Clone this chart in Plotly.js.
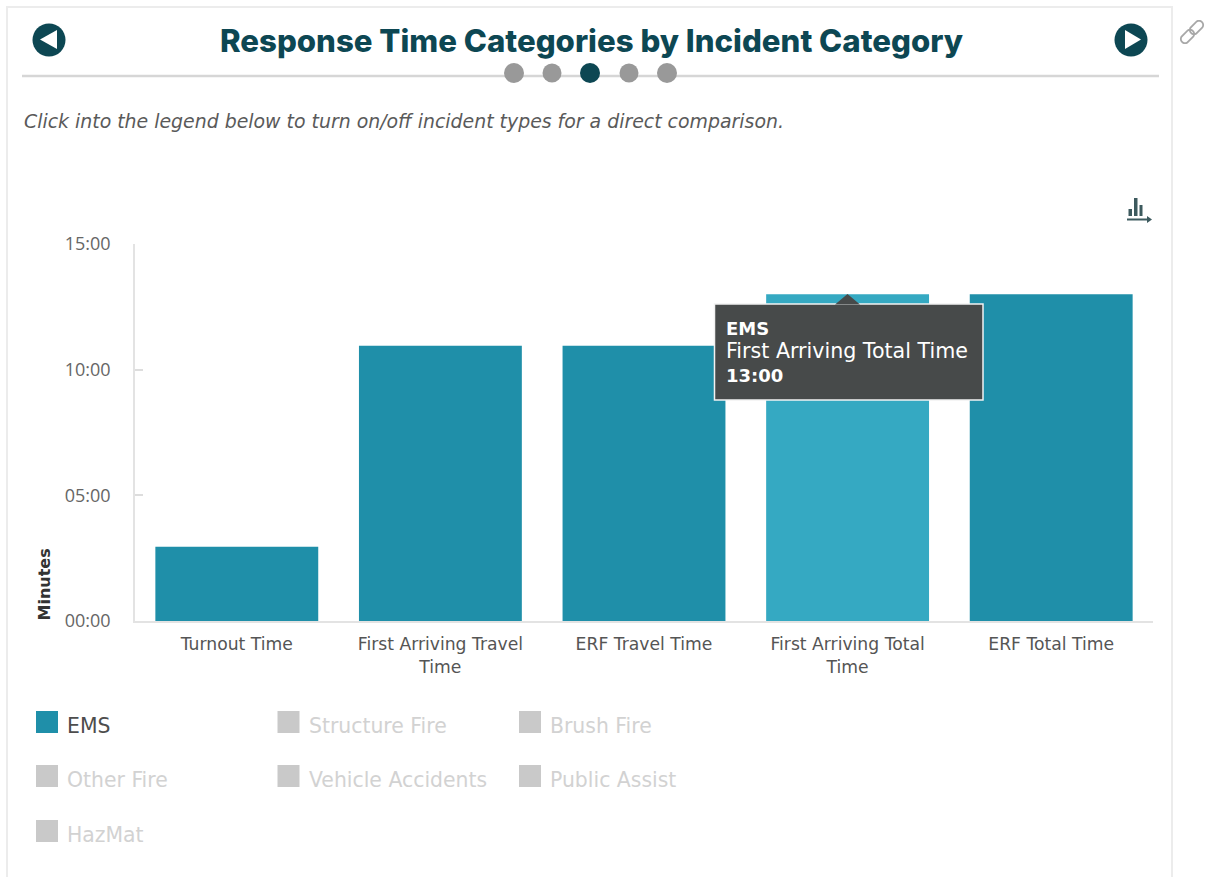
<!DOCTYPE html>
<html>
<head>
<meta charset="utf-8">
<script src="https://cdn.plot.ly/plotly-3.0.1.min.js"></script>
<style>html,body{margin:0;padding:0;background:#fff;overflow:hidden}#chart{width:1206px;height:877px}</style>
</head>
<body>
<div id="chart"></div>
<script>
const categories = ["Turnout Time", "First Arriving Travel<br>Time", "ERF Travel Time", "First Arriving Total<br>Time", "ERF Total Time"];
const emsMinutes = [2.95, 10.95, 10.95, 13, 13];
const yTickValues = [0, 5, 10, 15];
const yTickLabels = ["00:00", "05:00", "10:00", "15:00"];
const legendNames = ["EMS", "Structure Fire", "Brush Fire", "Other Fire", "Vehicle Accidents", "Public Assist", "HazMat"];
const titleText = "Response Time Categories by Incident Category";
const noteText = "Click into the legend below to turn on/off incident types for a direct comparison.";
const hoveredIndex = 3;

const W = 1206, H = 877;
const px = x => x / W, py = y => 1 - y / H;
const BAR = "#1f8fa9", BAR_HI = "#35a9c2", DARK = "#0d4753", GREY = "#999999";
const SANS = "'Open Sans', sans-serif";
const VERA = "'DejaVu Sans', sans-serif";

function path(points) {
  return "M" + points.map(p => px(p[0]) + "," + py(p[1])).join("L") + "Z";
}
function shapePath(points, fill) {
  return {type: "path", xref: "paper", yref: "paper", path: path(points), fillcolor: fill, line: {width: 0}};
}
function rect(x0, y0, x1, y1, fill, lineColor, lineWidth, layer) {
  return {type: "rect", xref: "paper", yref: "paper", x0: px(x0), x1: px(x1), y0: py(y0), y1: py(y1),
    fillcolor: fill, line: {color: lineColor || fill, width: lineWidth || 0}, layer: layer || "above"};
}
function circle(cx, cy, r, fill) {
  return {type: "circle", xref: "paper", yref: "paper", x0: px(cx - r), x1: px(cx + r), y0: py(cy + r), y1: py(cy - r),
    fillcolor: fill, line: {width: 0}};
}
function hline(x0, y0, x1, y1, color, width) {
  return {type: "line", xref: "paper", yref: "paper", x0: px(x0), x1: px(x1), y0: py(y0), y1: py(y1), line: {color: color, width: width}};
}
// closed outline of a link of the chain icon, tilted 45 degrees
function chainLink(cx, cy, half, r, color) {
  const pts = [], c = Math.SQRT1_2;
  for (let k = 0; k <= 24; k++) {
    const a = k / 24 * 2 * Math.PI;
    const u = r * Math.cos(a) + (k <= 6 || k >= 18 ? half : -half);
    const v = r * Math.sin(a);
    pts.push([cx + (u + v) * c, cy + (-u + v) * c]);
  }
  return {type: "path", xref: "paper", yref: "paper", path: path(pts), fillcolor: "rgba(0,0,0,0)", line: {color: color, width: 1.8}};
}
function label(text, x, y, size, color, family, extra) {
  return Object.assign({xref: "paper", yref: "paper", x: px(x), y: py(y), text: text, showarrow: false,
    xanchor: "left", yanchor: "middle", font: {size: size, color: color, family: family}}, extra || {});
}
function mmss(minutes) {
  const m = Math.floor(minutes), s = Math.round((minutes - m) * 60);
  return String(m).padStart(2, "0") + ":" + String(s).padStart(2, "0");
}

const shapes = [
  rect(7, 7, 1172, 900, "#ffffff", "#ececec", 2, "below"),
  hline(22, 76, 1159, 76, "#d6d6d6", 2.5),
  circle(49, 40, 16.5, DARK),
  shapePath([[40, 39.5], [57, 30], [57, 49]], "#ffffff"),
  circle(1131, 40, 16.5, DARK),
  shapePath([[1141, 39.5], [1125, 30], [1125, 49]], "#ffffff"),
  circle(514, 73, 10, GREY),
  circle(552, 73, 9.5, GREY),
  circle(590, 73, 10, DARK),
  circle(629, 73, 9.5, GREY),
  circle(667, 73, 10, GREY),
  // export icon
  rect(1128.5, 209, 1132, 216, "#3d5a5e"),
  rect(1134, 198, 1137.5, 216, "#3d5a5e"),
  rect(1139.5, 205, 1142.5, 216, "#3d5a5e"),
  hline(1127, 219.5, 1149, 219.5, "#3d5a5e", 2),
  shapePath([[1152, 219.5], [1147, 216], [1147, 223]], "#3d5a5e"),
  // link icon
  chainLink(1187.5, 36.5, 3.5, 4.2, "#a8a8a8"),
  chainLink(1196.5, 27.5, 3.5, 4.2, "#a8a8a8"),
  // tooltip
  rect(714.5, 304, 983, 400, "#474a4a", "#f2f2f2", 1.5),
  shapePath([[835, 304.5], [847.5, 294], [860, 304.5]], "#474a4a")
];

const tooltipText = "<b>" + legendNames[0] + "</b><br>" +
  "<span style=\"font-size:20.6px\">" + categories[hoveredIndex].replace("<br>", " ") + "</span><br>" +
  "<b>" + mmss(emsMinutes[hoveredIndex]) + "</b>";

const annotations = [
  label(titleText, 591, 41, 31.2, DARK, "Inter, sans-serif", {xanchor: "center", font: {size: 31.2, color: DARK, family: "Inter, sans-serif", weight: 800}}),
  label("<i>" + noteText + "</i>", 22, 121.5, 18.9, "#5a5a5a", VERA),
  label("<b>Minutes</b>", 44, 584.5, 16, "#333333", VERA, {xanchor: "center", textangle: -90}),
  label(tooltipText, 724, 352, 18, "#ffffff", VERA, {align: "left"})
];

const legendX = [36, 277.5, 519];
const legendY = [722, 776, 831];
legendNames.forEach((name, i) => {
  const cx = legendX[i % 3], cy = legendY[Math.floor(i / 3)];
  const on = i === 0;
  shapes.push(rect(cx, cy - 11, cx + 22, cy + 11, on ? BAR : "#c9c9c9"));
  annotations.push(label(name, cx + 29, cy + 3.5, 20.4, on ? "#4d4d4d" : "#d2d2d2", VERA));
});

const trace = {
  type: "bar",
  x: categories,
  y: emsMinutes,
  name: legendNames[0],
  marker: {color: emsMinutes.map((v, i) => i === hoveredIndex ? BAR_HI : BAR), line: {width: 0}},
  hoverinfo: "skip"
};

const layout = {
  width: W, height: H,
  margin: {l: 0, r: 0, t: 0, b: 0, pad: 0},
  paper_bgcolor: "#ffffff",
  plot_bgcolor: "rgba(0,0,0,0)",
  showlegend: false,
  bargap: 0.2,
  xaxis: {
    domain: [px(135), px(1153)],
    type: "category",
    showgrid: false,
    showline: true, linecolor: "#e3e3e3", linewidth: 1.5,
    ticks: "",
    tickangle: 0,
    ticklabelstandoff: 7,
    tickfont: {size: 17.2, color: "#555555", family: VERA},
    automargin: false
  },
  yaxis: {
    domain: [py(621), py(244)],
    range: [0, 15],
    tickmode: "array", tickvals: yTickValues, ticktext: yTickLabels,
    showgrid: false, zeroline: false,
    showline: true, linecolor: "#e3e3e3", linewidth: 1.5,
    ticks: "inside", ticklen: 8, tickcolor: "#dddddd", tickwidth: 1.5,
    ticklabelstandoff: 19,
    tickfont: {size: 18, color: "#666666", family: SANS},
    automargin: false
  },
  shapes: shapes,
  annotations: annotations
};

Plotly.newPlot("chart", [trace], layout, {displayModeBar: false, responsive: false});
</script>
</body>
</html>
